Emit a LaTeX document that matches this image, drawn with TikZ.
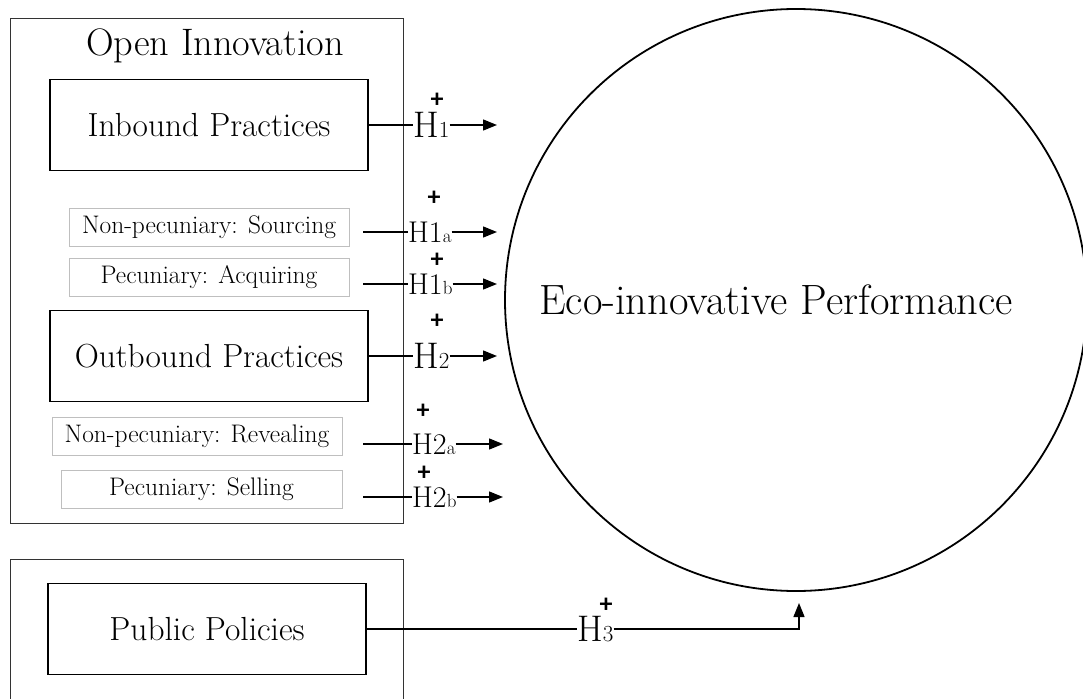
\documentclass[tikz,border=0pt]{standalone}
\usepackage{fontspec}
\newfontfamily\plusfont{Carlito}
\usetikzlibrary{positioning, arrows.meta}

\newcommand\bighyp[1]{\fontsize{37}{37}\selectfont H\fontsize{23}{23}\selectfont #1}
\newcommand\smallhyp[2]{\fontsize{30}{30}\selectfont H#1\fontsize{19}{19}\selectfont #2}

\tikzset{
  group/.style={draw=black!80, line width=1pt, minimum width=393pt},
  practice/.style={draw, line width=1.3pt, minimum width=318pt, minimum height=91pt,
    font=\fontsize{33.4}{38}\selectfont},
  mode/.style={draw=black!25, line width=1pt, minimum height=38pt,
    font=\fontsize{25.4}{30}\selectfont},
  hyp/.style={inner sep=0pt, anchor=west},
  sign/.style={inner sep=0pt, text height=17pt, text depth=0pt,
    font=\plusfont\bfseries\fontsize{26}{26}\selectfont},
  link/.style={line width=1.4pt},
  effect/.style={line width=1.4pt, -{Triangle[length=14pt, width=11pt]}}
}

\begin{document}
\begin{tikzpicture}[x=1pt, y=-1pt]
\useasboundingbox (0,0) rectangle (1083,698);
\node (open) [group, minimum height=504pt] at (206.5,271) {};
\node (public) [group, minimum height=160pt] at (206.5,639) {};
\node (title) at (215,46) [font=\fontsize{38.3}{44}\selectfont] {Open Innovation};

\node (inbound) at (209,125) [practice] {Inbound Practices};
\node (sourcing) at (209,227) [mode, minimum width=280pt] {Non-pecuniary: Sourcing};
\node (acquiring) at (209,277) [mode, minimum width=280pt] {Pecuniary: Acquiring};
\node (outbound) at (209,356) [practice] {Outbound Practices};
\node (revealing) at (197,436) [mode, minimum width=290pt] {Non-pecuniary: Revealing};
\node (selling) at (201.5,489) [mode, minimum width=281pt] {Pecuniary: Selling};
\node (policies) at (207,629) [practice] {Public Policies};

\node (perf) at (796,300) [circle, draw, line width=1.8pt, minimum size=582pt] {};
\node (perftext) at (776,300) [font=\fontsize{42.4}{48}\selectfont] {Eco-innovative Performance};

\node (h1) at (413,125) [hyp] {\bighyp{1}};
\node (h1a) at (408,232) [hyp] {\smallhyp{1}{a}};
\node (h1b) at (408,284) [hyp] {\smallhyp{1}{b}};
\node (h2) at (413,356) [hyp] {\bighyp{2}};
\node (h2a) at (412,444) [hyp] {\smallhyp{2}{a}};
\node (h2b) at (412,497) [hyp] {\smallhyp{2}{b}};
\node (h3) at (577,629) [hyp] {\bighyp{3}};

\node (p1) at (437,99) [sign] {+};
\node (p1a) at (434,197) [sign] {+};
\node (p1b) at (437,259) [sign] {+};
\node (p2) at (437,320) [sign] {+};
\node (p2a) at (423,410) [sign] {+};
\node (p2b) at (424,472) [sign] {+};
\node (p3) at (606,604) [sign] {+};

\coordinate (s1a) at (363,232);
\coordinate (s1b) at (363,284);
\coordinate (s2a) at (363,444);
\coordinate (s2b) at (363,497);
\coordinate (e1) at (497,125);
\coordinate (e1a) at (497,232);
\coordinate (e1b) at (497,284);
\coordinate (e2) at (497,356);
\coordinate (e2a) at (503,444);
\coordinate (e2b) at (503,497);
\coordinate (e3) at (799,603);

\draw[link] (inbound.east) -- (h1.west);
\draw[link] (s1a) -- (h1a.west);
\draw[link] (s1b) -- (h1b.west);
\draw[link] (outbound.east) -- (h2.west);
\draw[link] (s2a) -- (h2a.west);
\draw[link] (s2b) -- (h2b.west);
\draw[link] (policies.east) -- (h3.west);

\draw[effect] (h1.east) -- (e1);
\draw[effect] (h1a.east) -- (e1a);
\draw[effect] (h1b.east) -- (e1b);
\draw[effect] (h2.east) -- (e2);
\draw[effect] (h2a.east) -- (e2a);
\draw[effect] (h2b.east) -- (e2b);
\draw[effect] (h3.east) -| (e3);
\end{tikzpicture}
\end{document}
